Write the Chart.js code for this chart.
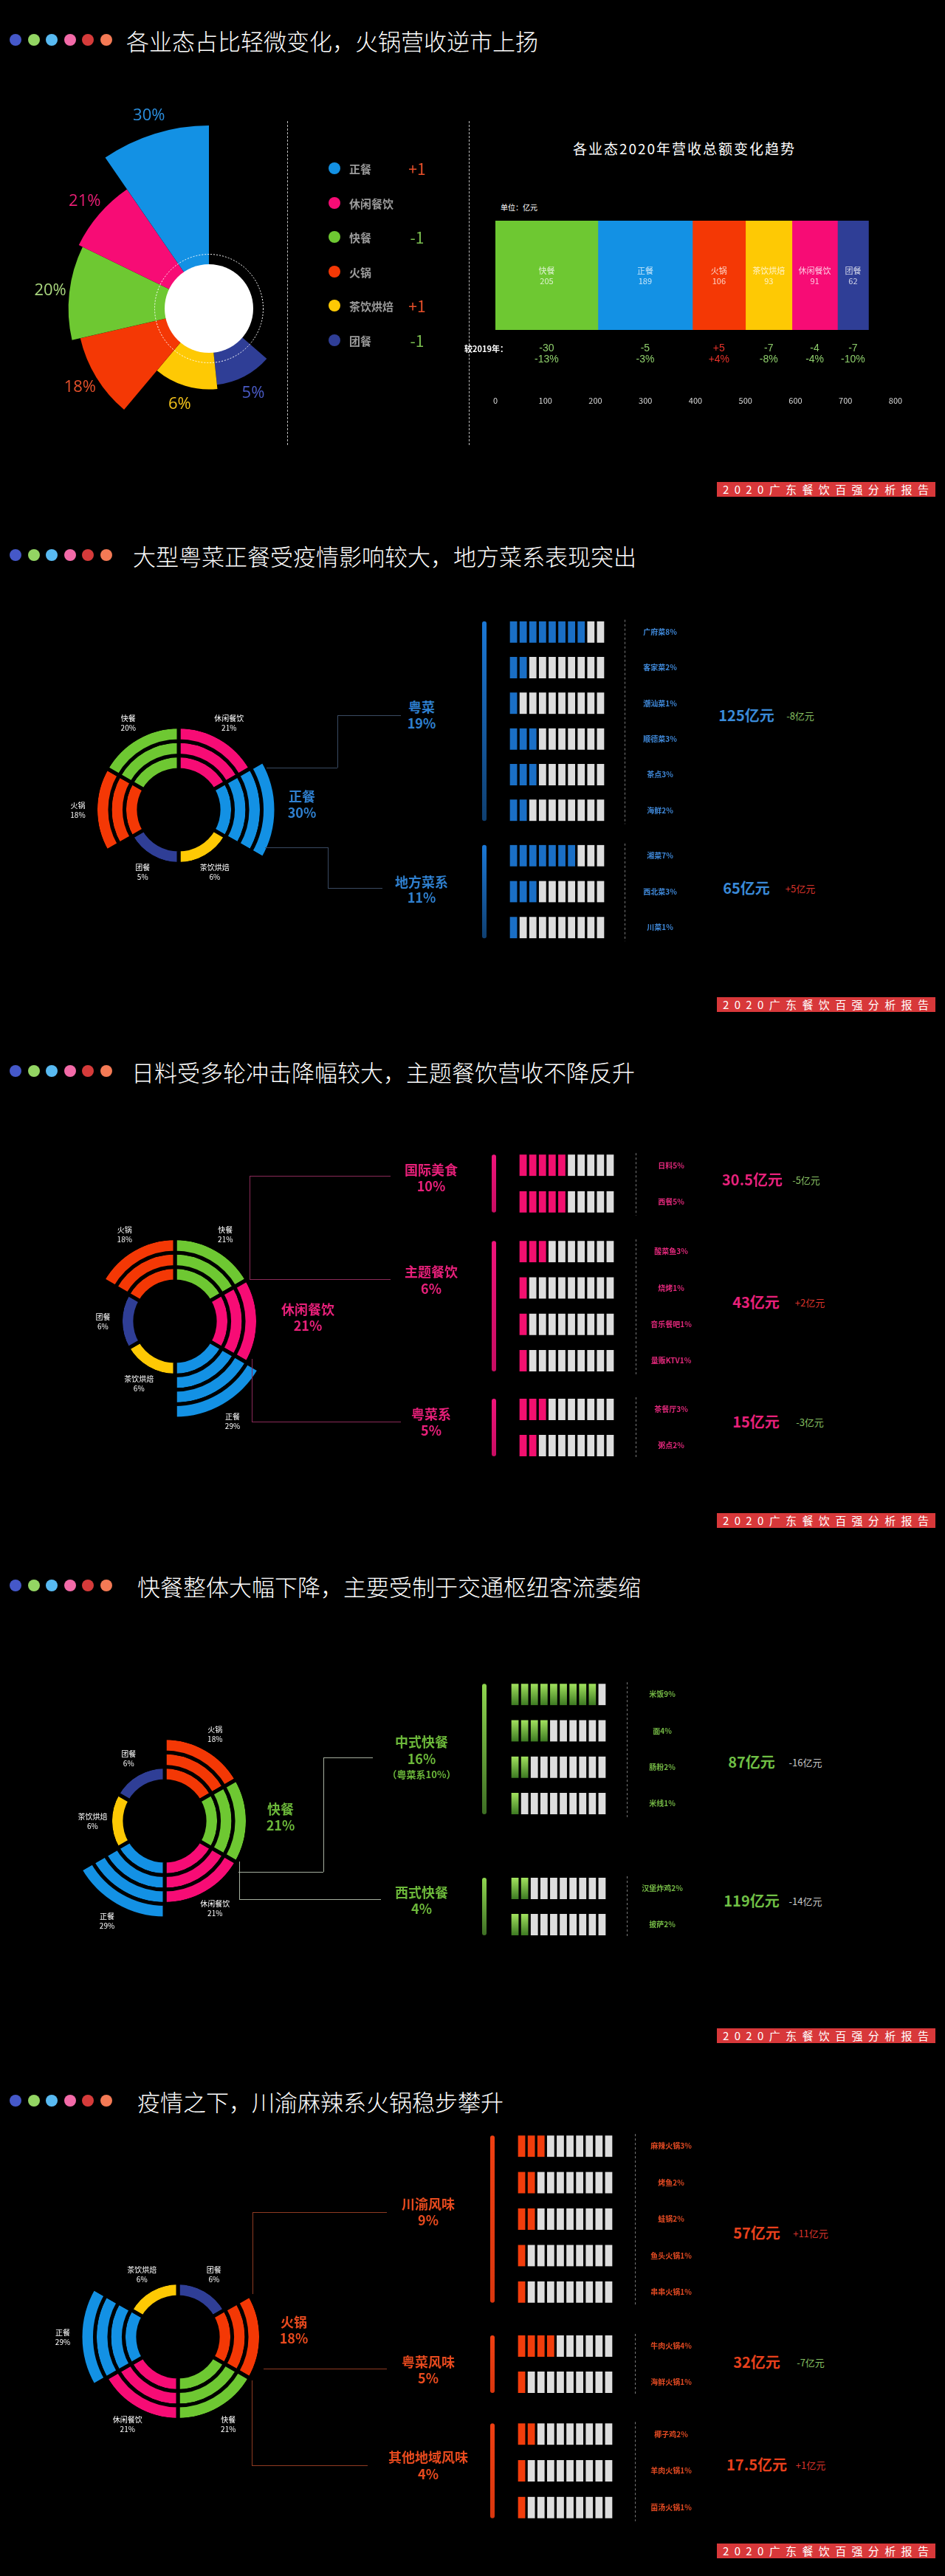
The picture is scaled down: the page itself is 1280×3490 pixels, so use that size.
<!DOCTYPE html>
<html lang="zh-CN">
<head>
<meta charset="utf-8">
<title>2020广东餐饮百强分析报告</title>
<script src="https://cdn.jsdelivr.net/npm/chart.js@4.4.1/dist/chart.umd.min.js"></script>
<style>
  html, body { margin: 0; padding: 0; background: #000; }
  body { font-family: "Noto Sans CJK SC", "Noto Sans", sans-serif; }
  #page { position: relative; width: 1280px; height: 3490px; overflow: hidden; background: #000; }
  #page canvas { position: absolute; }
  .t { position: absolute; white-space: nowrap; transform: translate(-50%, -50%); line-height: 1; }
  .tl { position: absolute; white-space: nowrap; transform: translateY(-50%); line-height: 1; }
  .title { position: absolute; color: #fff; font-size: 31px; font-weight: 300; line-height: 1; transform: translateY(-50%); white-space: nowrap; }
  .dot { position: absolute; width: 16px; height: 16px; border-radius: 50%; transform: translate(-50%, -50%); }
  .footer { position: absolute; left: 971px; width: 296px; height: 20px; background: #d8383a; color: #fff; font-size: 15px; line-height: 20px; padding: 0 9px 0 8px; box-sizing: border-box; display: flex; justify-content: space-between; }
  .vdash { position: absolute; width: 0; border-left: 1px dashed #bdbdbd; }
  .seg { position: absolute; }
</style>
</head>
<body>
<div id="page"></div>
<script>
// ---------- section 1: share of each format ----------
const formatNames = ['正餐', '休闲餐饮', '快餐', '火锅', '茶饮烘焙', '团餐'];
const formatShares = [30, 21, 20, 18, 6, 5];
const shareChanges = ['+1', '', '-1', '', '+1', '-1'];

// 2020 revenue per format (亿元) and change vs 2019
const revenueNames = ['快餐', '正餐', '火锅', '茶饮烘焙', '休闲餐饮', '团餐'];
const revenue2020 = [205, 189, 106, 93, 91, 62];
const revenueDiff = [-30, -5, 5, -7, -4, -7];
const revenueDiffPct = [-13, -3, 4, -8, -4, -10];
const revenueTickStep = 100;
const revenueMax = 800;

// ---------- ring charts (clockwise from top) ----------
const ring2Names = ['休闲餐饮', '正餐', '茶饮烘焙', '团餐', '火锅', '快餐'];
const ring2Shares = [21, 30, 6, 5, 18, 20];
const ring3Names = ['快餐', '休闲餐饮', '正餐', '茶饮烘焙', '团餐', '火锅'];
const ring3Shares = [21, 21, 29, 6, 6, 18];
const ring4Names = ['火锅', '快餐', '休闲餐饮', '正餐', '茶饮烘焙', '团餐'];
const ring4Shares = [18, 21, 21, 29, 6, 6];
const ring5Names = ['团餐', '火锅', '快餐', '休闲餐饮', '正餐', '茶饮烘焙'];
const ring5Shares = [6, 18, 21, 21, 29, 6];

// ---------- section 2: 正餐 ----------
const zhengcanSubNames = ['粤菜', '地方菜系'];
const zhengcanSubShares = [19, 11];
const yuecaiNames = ['广府菜', '客家菜', '潮汕菜', '顺德菜', '茶点', '海鲜'];
const yuecaiValues = [8, 2, 1, 3, 3, 2];
const difangNames = ['湘菜', '西北菜', '川菜'];
const difangValues = [7, 3, 1];
const zhengcanRevenue = [125, 65];
const zhengcanRevenueDiff = [-8, 5];

// ---------- section 3: 休闲餐饮 ----------
const xiuxianSubNames = ['国际美食', '主题餐饮', '粤菜系'];
const xiuxianSubShares = [10, 6, 5];
const guojiNames = ['日料', '西餐'];
const guojiValues = [5, 5];
const zhutiNames = ['酸菜鱼', '烧烤', '音乐餐吧', '量贩KTV'];
const zhutiValues = [3, 1, 1, 1];
const yuecaixiNames = ['茶餐厅', '粥点'];
const yuecaixiValues = [3, 2];
const xiuxianRevenue = [30.5, 43, 15];
const xiuxianRevenueDiff = [-5, 2, -3];

// ---------- section 4: 快餐 ----------
const kuaicanSubNames = ['中式快餐', '西式快餐'];
const kuaicanSubShares = [16, 4];
const zhongshiNames = ['米饭', '面', '肠粉', '米线'];
const zhongshiValues = [9, 4, 2, 1];
const xishiNames = ['汉堡炸鸡', '披萨'];
const xishiValues = [2, 2];
const kuaicanRevenue = [87, 119];
const kuaicanRevenueDiff = [-16, -14];

// ---------- section 5: 火锅 ----------
const huoguoSubNames = ['川渝风味', '粤菜风味', '其他地域风味'];
const huoguoSubShares = [9, 5, 4];
const chuanyuNames = ['麻辣火锅', '烤鱼', '蛙锅', '鱼头火锅', '串串火锅'];
const chuanyuValues = [3, 2, 2, 1, 1];
const yueweiNames = ['牛肉火锅', '海鲜火锅'];
const yueweiValues = [4, 1];
const qitaNames = ['椰子鸡', '羊肉火锅', '菌汤火锅'];
const qitaValues = [2, 1, 1];
const huoguoRevenue = [57, 32, 17.5];
const huoguoRevenueDiff = [11, -7, 1];

// ---------- styling ----------
const catColor = {
  '正餐': '#1391e4', '休闲餐饮': '#f70c75', '快餐': '#6ec832',
  '火锅': '#f43805', '茶饮烘焙': '#fec904', '团餐': '#2f3e96'
};
const roseLabelColor = {
  '正餐': '#2b8fdf', '休闲餐饮': '#e91e74', '快餐': '#a9d67e',
  '火锅': '#e4502b', '茶饮烘焙': '#f3c21b', '团餐': '#4a5bc6'
};
const dotColors = ['#4558c9', '#93d563', '#58baf2', '#f36aa8', '#d53b3a', '#f47a55'];
const FONT = '"Noto Sans CJK SC", "Noto Sans", sans-serif';
Chart.defaults.font.family = FONT;

const page = document.getElementById('page');

function addCanvas(left, top, w, h) {
  const c = document.createElement('canvas');
  c.width = w; c.height = h;
  c.style.left = left + 'px'; c.style.top = top + 'px';
  c.style.width = w + 'px'; c.style.height = h + 'px';
  page.appendChild(c);
  return c;
}

function text(x, y, str, size, color, weight, cls) {
  const d = document.createElement('div');
  d.className = cls || 't';
  d.style.left = x + 'px'; d.style.top = y + 'px';
  d.style.fontSize = size + 'px'; d.style.color = color;
  if (weight) d.style.fontWeight = weight;
  d.textContent = str;
  page.appendChild(d);
  return d;
}

function line(x1, y1, x2, y2, color) {
  const d = document.createElement('div');
  d.className = 'seg';
  d.style.left = Math.min(x1, x2) + 'px';
  d.style.top = Math.min(y1, y2) + 'px';
  d.style.width = Math.max(1, Math.abs(x2 - x1)) + 'px';
  d.style.height = Math.max(1, Math.abs(y2 - y1)) + 'px';
  d.style.background = color;
  page.appendChild(d);
}

function signed(v) { return (v > 0 ? '+' : '') + v; }

function header(y, titleX, str) {
  dotColors.forEach((c, i) => {
    const d = document.createElement('div');
    d.className = 'dot';
    d.style.left = (21 + i * 24.6) + 'px';
    d.style.top = y + 'px';
    d.style.background = c;
    page.appendChild(d);
  });
  text(titleX, y, str, 31, '#fff', 300, 'title');
}

function footer(top) {
  const f = document.createElement('div');
  f.className = 'footer';
  f.style.top = top + 'px';
  Array.from('2020广东餐饮百强分析报告').forEach(ch => {
    const s = document.createElement('span');
    s.textContent = ch;
    f.appendChild(s);
  });
  page.appendChild(f);
}

// ================= SECTION 1 =================
header(54, 171, '各业态占比轻微变化，火锅营收逆市上扬');
footer(653);

// rose chart
const roseDeco = {
  id: 'roseDeco',
  afterDatasetsDraw(chart) {
    const {ctx} = chart;
    const r = chart.scales.r;
    const cx = r.xCenter, cy = r.yCenter;
    ctx.save();
    ctx.fillStyle = '#fff';
    ctx.beginPath(); ctx.arc(cx, cy, 60, 0, Math.PI * 2); ctx.fill();
    ctx.strokeStyle = '#fff'; ctx.lineWidth = 1; ctx.setLineDash([2, 2]);
    ctx.beginPath(); ctx.arc(cx, cy, 73.5, 0, Math.PI * 2); ctx.stroke();
    ctx.setLineDash([]);
    ctx.font = '22px "Open Sans", sans-serif';
    ctx.textAlign = 'center'; ctx.textBaseline = 'middle';
    chart.getDatasetMeta(0).data.forEach((arc, i) => {
      const mid = (arc.startAngle + arc.endAngle) / 2;
      const d = arc.outerRadius + 26;
      ctx.fillStyle = roseLabelColor[chart.data.labels[i]];
      ctx.fillText(chart.data.datasets[0].data[i] + '%', cx + Math.cos(mid) * d, cy + Math.sin(mid) * d);
    });
    ctx.restore();
  }
};

const roseNames = formatNames.slice().reverse();
const roseShares = formatShares.slice().reverse();
new Chart(addCanvas(0, 118, 640, 600), {
  type: 'polarArea',
  data: {
    labels: roseNames,
    datasets: [{
      data: roseShares,
      backgroundColor: roseNames.map(n => catColor[n]),
      borderWidth: 0,
      angle: [43, 46, 37, 39, 29.5, 34.5]
    }]
  },
  options: {
    responsive: false, animation: false, events: [],
    layout: {padding: {left: 35, right: 109, top: 52, bottom: 52}},
    scales: {
      r: {
        min: -13, max: 30, startAngle: 131,
        ticks: {display: false}, grid: {display: false},
        angleLines: {display: false}, pointLabels: {display: false}
      }
    },
    plugins: {legend: {display: false}, tooltip: {enabled: false}}
  },
  plugins: [roseDeco]
});

// legend
const vd1 = document.createElement('div'); vd1.className = 'vdash';
vd1.style.cssText = 'left:389px;top:164px;height:439px;';
page.appendChild(vd1);
const vd2 = document.createElement('div'); vd2.className = 'vdash';
vd2.style.cssText = 'left:635px;top:164px;height:439px;';
page.appendChild(vd2);

formatNames.forEach((n, i) => {
  const y = 228 + i * 46.6;
  const d = document.createElement('div');
  d.className = 'dot';
  d.style.left = '453px'; d.style.top = y + 'px';
  d.style.background = catColor[n];
  page.appendChild(d);
  text(473, y, n, 15, '#9c9c9c', 'bold', 'tl');
  if (shareChanges[i]) {
    text(565, y, shareChanges[i], 21, shareChanges[i][0] === '+' ? '#e8502a' : '#7cc050', 'normal');
  }
});

// stacked revenue bar
text(927, 200, '各业态2020年营收总额变化趋势', 19, '#fff', 'normal').style.letterSpacing = '2px';
text(678, 281, '单位：亿元', 10, '#fff', 'normal', 'tl');

const revenueDeco = {
  id: 'revenueDeco',
  afterDatasetsDraw(chart) {
    const {ctx} = chart;
    ctx.save();
    ctx.textAlign = 'center'; ctx.textBaseline = 'middle';
    let bottom = 0;
    chart.data.datasets.forEach((ds, i) => {
      const bar = chart.getDatasetMeta(i).data[0];
      const x = (bar.x + bar.base) / 2;
      bottom = bar.y + bar.height / 2;
      ctx.fillStyle = 'rgba(255,255,255,0.78)';
      ctx.font = '11px ' + FONT;
      ctx.fillText(ds.label, x, bar.y - 6);
      ctx.fillText(String(ds.data[0]), x, bar.y + 8);
      const d = revenueDiff[i];
      ctx.fillStyle = d > 0 ? '#e8332b' : '#8fcf6c';
      ctx.font = '14px "Liberation Sans", sans-serif';
      ctx.fillText(signed(d), x, bottom + 25);
      ctx.fillText(signed(revenueDiffPct[i]) + '%', x, bottom + 40);
    });
    ctx.fillStyle = '#fff';
    ctx.font = 'bold 11px ' + FONT;
    ctx.textAlign = 'right';
    ctx.fillText('较2019年：', chart.chartArea.left + 17, bottom + 26);
    ctx.restore();
  }
};

new Chart(addCanvas(610, 250, 670, 307), {
  type: 'bar',
  data: {
    labels: ['2020'],
    datasets: revenueNames.map((n, i) => ({
      label: n,
      data: [revenue2020[i]],
      backgroundColor: catColor[n],
      borderWidth: 0,
      barPercentage: 1,
      categoryPercentage: 1
    }))
  },
  options: {
    indexAxis: 'y', responsive: false, animation: false, events: [],
    layout: {padding: {left: 61, right: 67, top: 49, bottom: 0}},
    scales: {
      x: {
        stacked: true, min: 0, max: revenueMax,
        ticks: {stepSize: revenueTickStep, color: '#dcdcdc', font: {size: 11}, padding: 89},
        grid: {display: false, drawTicks: false},
        border: {display: false},
        afterFit(s) { s.paddingLeft = 0; s.paddingRight = 0; s.height = 110; }
      },
      y: {stacked: true, display: false}
    },
    plugins: {legend: {display: false}, tooltip: {enabled: false}}
  },
  plugins: [revenueDeco]
});

// ================= ring chart helper =================
function ringCount(v) { return v >= 25 ? 4 : v >= 10 ? 3 : 1; }

const ringLabels = {
  id: 'ringLabels',
  afterDatasetsDraw(chart, args, o) {
    const {ctx} = chart;
    const n = chart.data.datasets.length;
    ctx.save();
    ctx.fillStyle = '#fff';
    ctx.font = '10px ' + FONT;
    ctx.textAlign = 'center'; ctx.textBaseline = 'middle';
    chart.data.labels.forEach((name, i) => {
      if (name === o.highlight) return;
      const rings = ringCount(o.shares[i]);
      const arc = chart.getDatasetMeta(n - rings).data[i];
      const mid = (arc.startAngle + arc.endAngle) / 2;
      const d = arc.outerRadius + 24;
      const x = arc.x + Math.cos(mid) * d, y = arc.y + Math.sin(mid) * d;
      ctx.fillText(name, x, y - 6);
      ctx.fillText(o.shares[i] + '%', x, y + 7);
    });
    ctx.restore();
  }
};

function ringChart(names, shares, highlight, cx, cy) {
  const size = 400;
  const datasets = [];
  for (let ring = 3; ring >= 0; ring--) {
    datasets.push({
      data: names.map(() => 1),
      backgroundColor: names.map((n, i) => ringCount(shares[i]) > ring ? catColor[n] : 'rgba(0,0,0,0)'),
      borderColor: '#000',
      borderWidth: 5
    });
  }
  new Chart(addCanvas(cx - size / 2, cy - size / 2, size, size), {
    type: 'doughnut',
    data: {labels: names, datasets},
    options: {
      responsive: false, animation: false, events: [],
      radius: 132, cutout: '41%',
      plugins: {
        legend: {display: false}, tooltip: {enabled: false},
        ringLabels: {shares, highlight}
      }
    },
    plugins: [ringLabels]
  });
}

// ================= waffle helper =================
const waffleDeco = {
  id: 'waffleDeco',
  afterDatasetsDraw(chart, args, o) {
    const {ctx} = chart;
    const ys = chart.scales.y;
    const n = chart.data.labels.length;
    const y0 = ys.getPixelForValue(0) - 14.5;
    const y1 = ys.getPixelForValue(n - 1) + 14.5;
    ctx.save();
    const g = ctx.createLinearGradient(0, y0, 0, y1);
    g.addColorStop(0, o.side[0]); g.addColorStop(1, o.side[1]);
    ctx.strokeStyle = g; ctx.lineWidth = 6; ctx.lineCap = 'round';
    ctx.beginPath(); ctx.moveTo(o.sideX, y0 + 3); ctx.lineTo(o.sideX, y1 - 3); ctx.stroke();
    ctx.strokeStyle = '#7a7a7a'; ctx.lineWidth = 1; ctx.lineCap = 'butt';
    ctx.setLineDash([3, 3]);
    ctx.beginPath(); ctx.moveTo(o.sepX + 0.5, y0 - 2); ctx.lineTo(o.sepX + 0.5, y1 + 4); ctx.stroke();
    ctx.setLineDash([]);
    ctx.fillStyle = o.labelColor;
    ctx.font = 'bold 10px ' + FONT;
    ctx.textAlign = 'center'; ctx.textBaseline = 'middle';
    chart.data.labels.forEach((name, i) => {
      ctx.fillText(name + o.values[i] + '%', o.labelX, ys.getPixelForValue(i));
    });
    ctx.restore();
  }
};

function waffle(names, values, pos, theme) {
  const cellH = 29;
  const left = pos.sideX - 8;
  const width = pos.labelX + 70 - left;
  const top = pos.top + cellH / 2 - pos.pitch / 2;
  const height = Math.round(names.length * pos.pitch);
  const padL = pos.cellsLeft - 2 - left;
  const areaW = 131;
  const datasets = [];
  for (let k = 0; k < 10; k++) {
    datasets.push({
      data: names.map(() => 1),
      backgroundColor: c => {
        if (c.type !== 'data' || values[c.dataIndex] <= k) return '#dddddd';
        if (!theme.grad) return theme.fill;
        const y = c.chart.scales.y ? c.chart.scales.y.getPixelForValue(c.dataIndex) : NaN;
        if (!isFinite(y)) return theme.grad[0];
        const g = c.chart.ctx.createLinearGradient(0, y - cellH / 2, 0, y + cellH / 2);
        g.addColorStop(0, theme.grad[0]); g.addColorStop(1, theme.grad[1]);
        return g;
      },
      borderColor: '#000',
      borderWidth: {left: 2, right: 2, top: 0, bottom: 0},
      borderSkipped: false,
      barThickness: cellH,
      stack: 'cells'
    });
  }
  new Chart(addCanvas(left, top, width, height), {
    type: 'bar',
    data: {labels: names, datasets},
    options: {
      indexAxis: 'y', responsive: false, animation: false, events: [],
      layout: {padding: {left: padL, right: width - padL - areaW, top: 0, bottom: 0}},
      scales: {
        x: {display: false, stacked: true, min: 0, max: 10},
        y: {display: false, stacked: true}
      },
      plugins: {
        legend: {display: false}, tooltip: {enabled: false},
        waffleDeco: {
          values, side: theme.side, labelColor: theme.label,
          sideX: pos.sideX - left, sepX: pos.sepX - left, labelX: pos.labelX - left
        }
      }
    },
    plugins: [waffleDeco]
  });
}

function totals(x, y, value, diff, color, negColor) {
  text(x, y, value + '亿元', 20, color, 'bold');
  text(x + 73, y, signed(diff) + '亿元', 13, diff > 0 ? '#d8332b' : (negColor || '#86c062'), 'normal');
}

function highlightLabel(x, y1, y2, names, shares, name, color) {
  text(x, y1, name, 18, color, 'bold');
  text(x, y2, shares[names.indexOf(name)] + '%', 18, color, 'bold');
}

// ================= SECTION 2 =================
header(752, 180, '大型粤菜正餐受疫情影响较大，地方菜系表现突出');
footer(1351);
ringChart(ring2Names, ring2Shares, '正餐', 242, 1097);
highlightLabel(409, 1078, 1100, ring2Names, ring2Shares, '正餐', '#2f80d0');
const c2 = '#3a4a62';
line(361, 1040, 457, 1040, c2); line(457, 969, 458, 1040, c2); line(457, 969, 543, 969, c2);
line(359, 1148, 444, 1148, c2); line(444, 1148, 445, 1203, c2); line(444, 1203, 518, 1203, c2);
text(571, 957, zhengcanSubNames[0], 18, '#2f80d0', 'bold');
text(571, 979, zhengcanSubShares[0] + '%', 18, '#2f80d0', 'bold');
text(571, 1194, zhengcanSubNames[1], 18, '#2f80d0', 'bold');
text(571, 1215, zhengcanSubShares[1] + '%', 18, '#2f80d0', 'bold');
const th2 = {fill: '#1a6fc6', side: ['#1b78d6', '#0f3f70'], label: '#3f88d8'};
waffle(yuecaiNames, yuecaiValues, {top: 842, pitch: 48.4, cellsLeft: 691, sideX: 656, sepX: 846, labelX: 894}, th2);
waffle(difangNames, difangValues, {top: 1145, pitch: 48.5, cellsLeft: 691, sideX: 656, sepX: 846, labelX: 894}, th2);
totals(1011, 969, zhengcanRevenue[0], zhengcanRevenueDiff[0], '#3a8ad8');
totals(1011, 1203, zhengcanRevenue[1], zhengcanRevenueDiff[1], '#3a8ad8');

// ================= SECTION 3 =================
header(1451, 178, '日料受多轮冲击降幅较大，主题餐饮营收不降反升');
footer(2050);
ringChart(ring3Names, ring3Shares, '休闲餐饮', 237, 1790);
highlightLabel(417, 1773, 1795, ring3Names, ring3Shares, '休闲餐饮', '#e8207a');
const c3 = '#8a2a58';
line(338, 1593, 529, 1593, c3); line(338, 1593, 339, 1733, c3); line(338, 1733, 529, 1733, c3);
line(341, 1841, 342, 1926, c3); line(341, 1926, 543, 1926, c3);
[[1584, 1606], [1722, 1745], [1915, 1937]].forEach((ys, i) => {
  text(584, ys[0], xiuxianSubNames[i], 18, '#e8207a', 'bold');
  text(584, ys[1], xiuxianSubShares[i] + '%', 18, '#e8207a', 'bold');
});
const th3 = {fill: '#f2106f', side: ['#f0147a', '#c80c62'], label: '#e0287a'};
waffle(guojiNames, guojiValues, {top: 1564, pitch: 49.5, cellsLeft: 704, sideX: 669, sepX: 861, labelX: 909}, th3);
waffle(zhutiNames, zhutiValues, {top: 1681, pitch: 49.3, cellsLeft: 704, sideX: 669, sepX: 861, labelX: 909}, th3);
waffle(yuecaixiNames, yuecaixiValues, {top: 1895, pitch: 49, cellsLeft: 704, sideX: 669, sepX: 861, labelX: 909}, th3);
totals(1019, 1598, xiuxianRevenue[0], xiuxianRevenueDiff[0], '#e8207a');
totals(1024, 1764, xiuxianRevenue[1], xiuxianRevenueDiff[1], '#e8207a');
totals(1024, 1926, xiuxianRevenue[2], xiuxianRevenueDiff[2], '#e8207a');

// ================= SECTION 4 =================
header(2148, 186, '快餐整体大幅下降，主要受制于交通枢纽客流萎缩');
footer(2748);
ringChart(ring4Names, ring4Shares, '快餐', 223, 2467);
highlightLabel(380, 2450, 2472, ring4Names, ring4Shares, '快餐', '#6cb83a');
const c4 = '#a6b0a0';
line(323, 2536, 438, 2536, c4); line(438, 2381, 439, 2536, c4); line(438, 2381, 505, 2381, c4);
line(324, 2522, 325, 2573, c4); line(324, 2573, 516, 2573, c4);
text(571, 2359, kuaicanSubNames[0], 18, '#6cb83a', 'bold');
text(571, 2382, kuaicanSubShares[0] + '%', 18, '#6cb83a', 'bold');
text(571, 2403, '（粤菜系10%）', 13, '#6cb83a', 'bold');
text(571, 2563, kuaicanSubNames[1], 18, '#6cb83a', 'bold');
text(571, 2585, kuaicanSubShares[1] + '%', 18, '#6cb83a', 'bold');
const th4 = {grad: ['#a2e25e', '#3d7a22'], side: ['#8fd64f', '#3d6e24'], label: '#74b845'};
waffle(zhongshiNames, zhongshiValues, {top: 2281, pitch: 49.3, cellsLeft: 693, sideX: 656, sepX: 849, labelX: 897}, th4);
waffle(xishiNames, xishiValues, {top: 2544, pitch: 49, cellsLeft: 693, sideX: 656, sepX: 849, labelX: 897}, th4);
totals(1018, 2387, kuaicanRevenue[0], kuaicanRevenueDiff[0], '#6fbf45', '#c8c8c8');
totals(1018, 2575, kuaicanRevenue[1], kuaicanRevenueDiff[1], '#6fbf45', '#c8c8c8');

// ================= SECTION 5 =================
header(2846, 186, '疫情之下，川渝麻辣系火锅稳步攀升');
footer(3446);
ringChart(ring5Names, ring5Shares, '火锅', 241, 3166);
highlightLabel(398, 3145, 3167, ring5Names, ring5Shares, '火锅', '#e84a1e');
const c5 = '#8e3a22';
line(342, 2997, 524, 2997, c5); line(342, 2997, 343, 3108, c5);
line(357, 3209, 524, 3209, c5);
line(341, 3225, 342, 3340, c5); line(341, 3340, 498, 3340, c5);
[[2985, 3007], [3199, 3221], [3328, 3351]].forEach((ys, i) => {
  text(580, ys[0], huoguoSubNames[i], 18, '#e84a1e', 'bold');
  text(580, ys[1], huoguoSubShares[i] + '%', 18, '#e84a1e', 'bold');
});
const th5 = {fill: '#f23d0c', side: ['#ef3f12', '#d8360e'], label: '#e24a22'};
waffle(chuanyuNames, chuanyuValues, {top: 2893, pitch: 49.3, cellsLeft: 702, sideX: 667, sepX: 860, labelX: 909}, th5);
waffle(yueweiNames, yueweiValues, {top: 3164, pitch: 49, cellsLeft: 702, sideX: 667, sepX: 860, labelX: 909}, th5);
waffle(qitaNames, qitaValues, {top: 3283, pitch: 49.5, cellsLeft: 702, sideX: 667, sepX: 860, labelX: 909}, th5);
totals(1025, 3025, huoguoRevenue[0], huoguoRevenueDiff[0], '#e8401c');
totals(1025, 3200, huoguoRevenue[1], huoguoRevenueDiff[1], '#e8401c');
totals(1025, 3339, huoguoRevenue[2], huoguoRevenueDiff[2], '#e8401c');
</script>
</body>
</html>
